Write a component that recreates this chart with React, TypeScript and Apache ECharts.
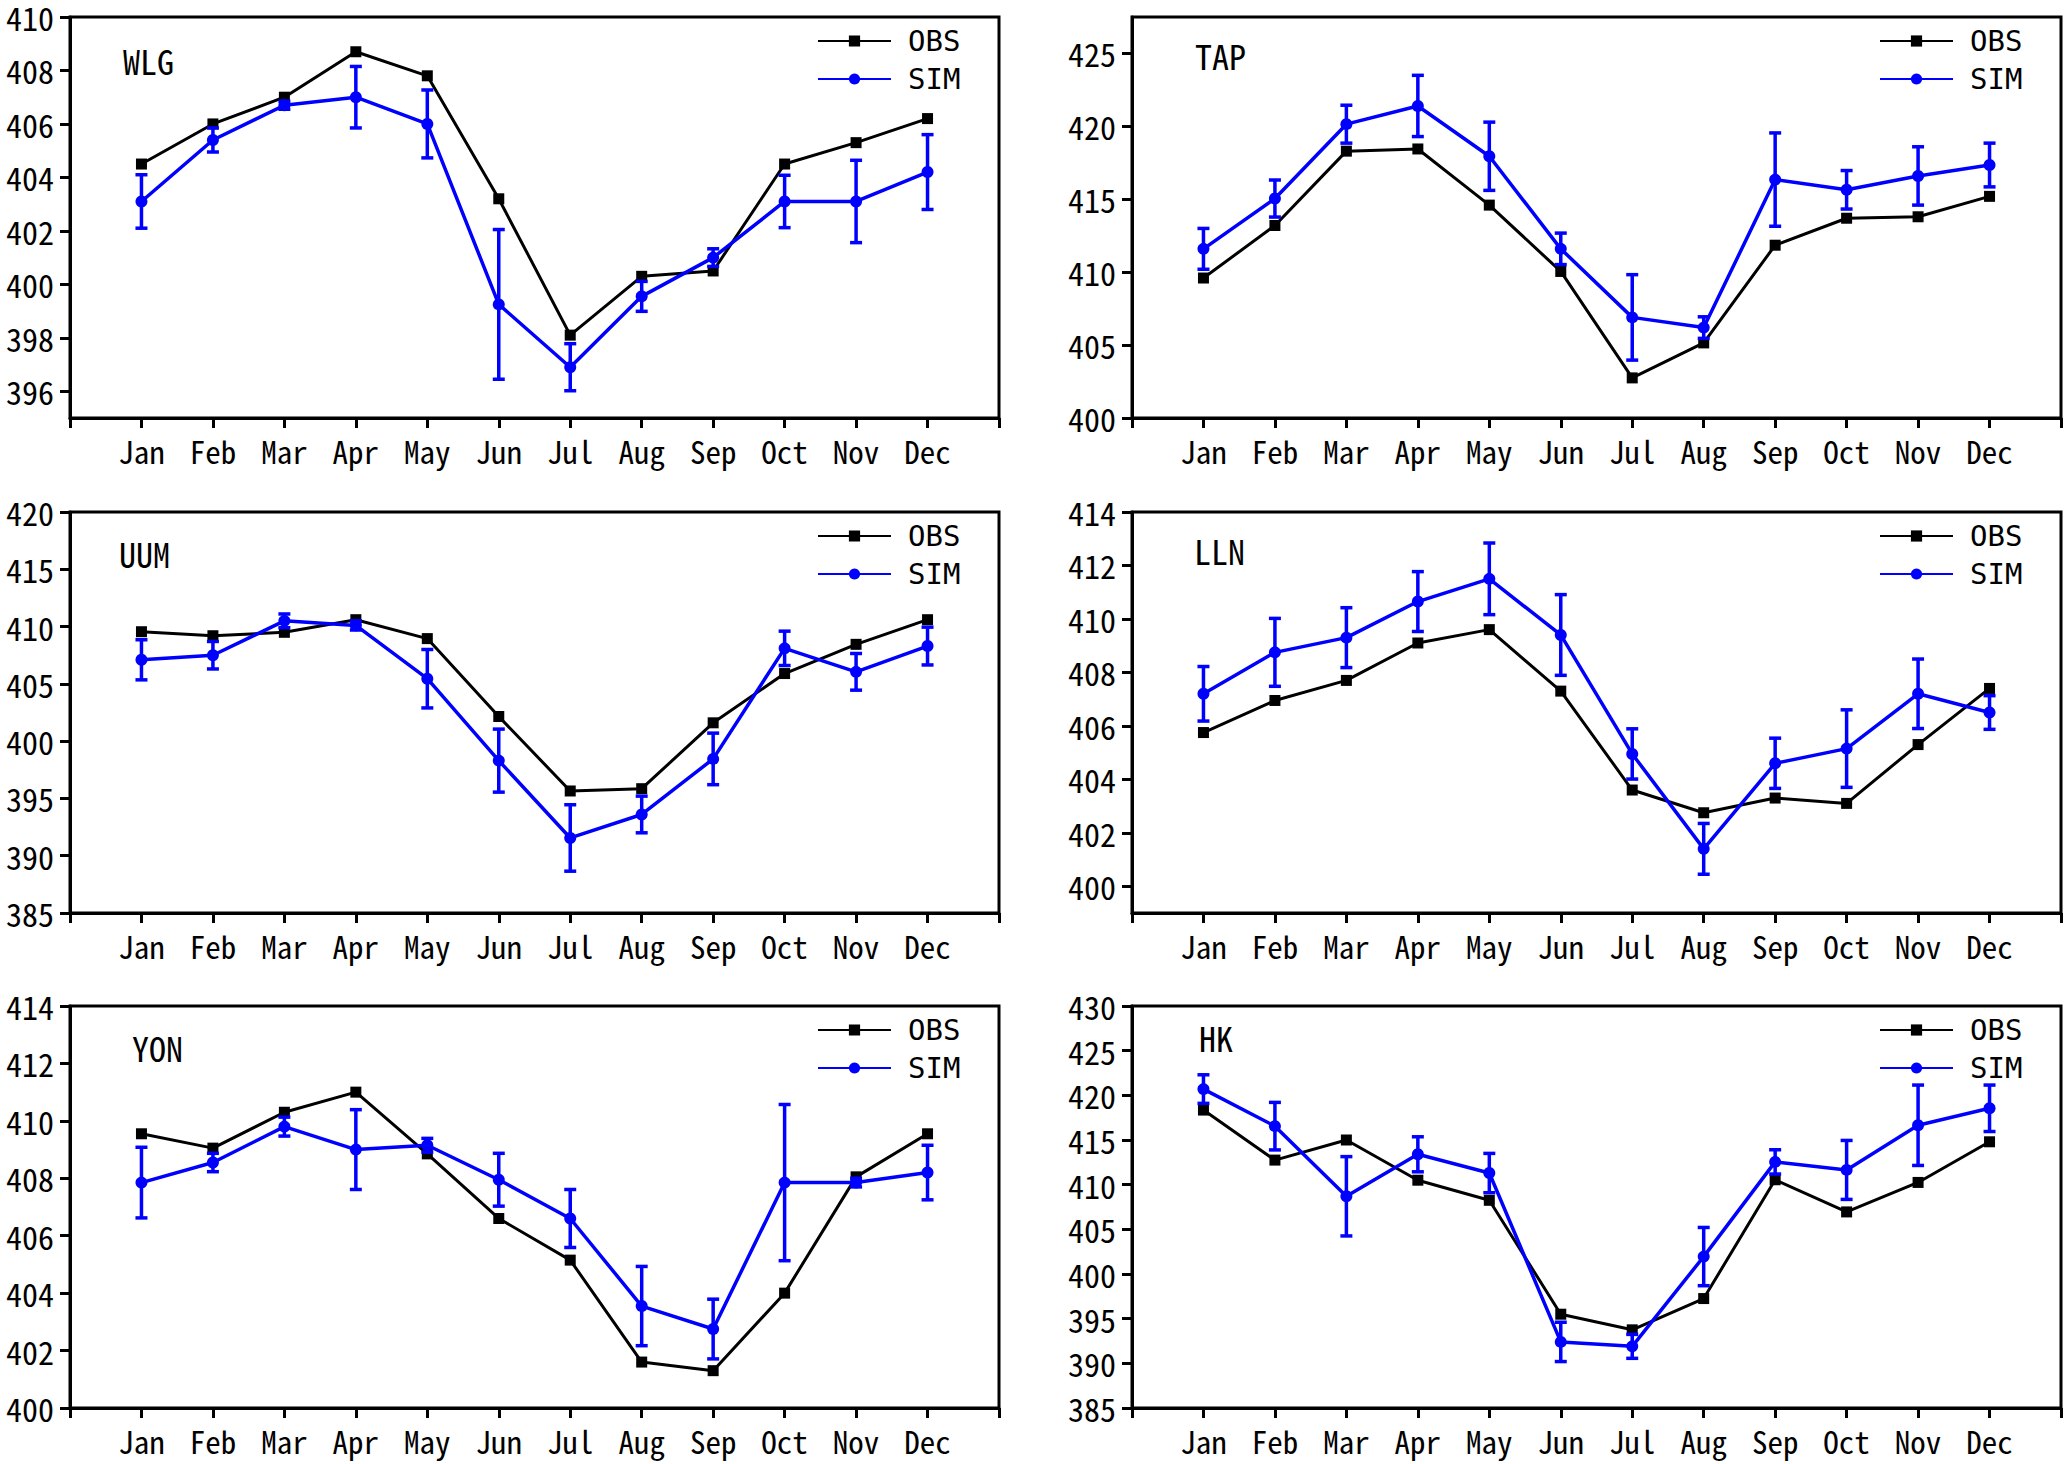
import React, { useEffect, useRef } from "react";
import * as echarts from "echarts";

const months = ["Jan", "Feb", "Mar", "Apr", "May", "Jun", "Jul", "Aug", "Sep", "Oct", "Nov", "Dec"];
const stations = ["WLG", "TAP", "UUM", "LLN", "YON", "HK"];

const wlgObs = [404.5, 406.0, 407.0, 408.7, 407.8, 403.2, 398.1, 400.3, 400.5, 404.5, 405.3, 406.2];
const wlgSim = [403.1, 405.4, 406.7, 407.0, 406.0, 399.25, 396.9, 399.55, 401.0, 403.1, 403.1, 404.2];
const wlgErr = [1.0, 0.45, 0.15, 1.15, 1.27, 2.8, 0.88, 0.56, 0.33, 0.98, 1.54, 1.4];
const wlgRange = [395, 410];
const wlgTicks = [396, 398, 400, 402, 404, 406, 408, 410];

const tapObs = [409.6, 413.2, 418.3, 418.45, 414.6, 410.05, 402.75, 405.15, 411.85, 413.7, 413.8, 415.2];
const tapSim = [411.6, 415.05, 420.15, 421.4, 417.95, 411.6, 406.9, 406.2, 416.35, 415.65, 416.6, 417.35];
const tapErr = [1.4, 1.27, 1.3, 2.1, 2.34, 1.08, 2.93, 0.74, 3.2, 1.32, 2.0, 1.5];
const tapRange = [400, 427.5];
const tapTicks = [400, 405, 410, 415, 420, 425];

const uumObs = [409.55, 409.2, 409.5, 410.6, 408.95, 402.15, 395.65, 395.85, 401.6, 405.9, 408.45, 410.6];
const uumSim = [407.1, 407.5, 410.5, 410.1, 405.45, 398.3, 391.55, 393.6, 398.45, 408.1, 406.05, 408.3];
const uumErr = [1.75, 1.2, 0.6, 0.4, 2.55, 2.75, 2.9, 1.6, 2.25, 1.5, 1.6, 1.65];
const uumRange = [385, 420];
const uumTicks = [385, 390, 395, 400, 405, 410, 415, 420];

const llnObs = [405.75, 406.95, 407.7, 409.1, 409.6, 407.3, 403.6, 402.75, 403.3, 403.1, 405.3, 407.4];
const llnSim = [407.2, 408.75, 409.3, 410.65, 411.5, 409.4, 404.95, 401.4, 404.6, 405.15, 407.2, 406.5];
const llnErr = [1.02, 1.27, 1.12, 1.12, 1.34, 1.51, 0.94, 0.95, 0.94, 1.45, 1.3, 0.63];
const llnRange = [399, 414];
const llnTicks = [400, 402, 404, 406, 408, 410, 412, 414];

const yonObs = [409.55, 409.05, 410.3, 411.0, 408.85, 406.6, 405.15, 401.6, 401.3, 404.0, 408.05, 409.55];
const yonSim = [407.85, 408.55, 409.8, 409.0, 409.15, 407.95, 406.6, 403.55, 402.75, 407.85, 407.85, 408.2];
const yonErr = [1.23, 0.32, 0.33, 1.39, 0.24, 0.92, 1.01, 1.38, 1.04, 2.72, 0.15, 0.95];
const yonRange = [400, 414];
const yonTicks = [400, 402, 404, 406, 408, 410, 412, 414];

const hkObs = [418.35, 412.75, 415.0, 410.5, 408.25, 395.5, 393.75, 397.25, 410.55, 406.95, 410.25, 414.8];
const hkSim = [420.7, 416.55, 408.7, 413.4, 411.3, 392.4, 391.9, 401.95, 412.55, 411.65, 416.65, 418.55];
const hkErr = [1.6, 2.66, 4.44, 1.96, 2.2, 2.2, 1.34, 3.26, 1.36, 3.3, 4.5, 2.6];
const hkRange = [385, 430];
const hkTicks = [385, 390, 395, 400, 405, 410, 415, 420, 425, 430];

const panelObs = [wlgObs, tapObs, uumObs, llnObs, yonObs, hkObs];
const panelSim = [wlgSim, tapSim, uumSim, llnSim, yonSim, hkSim];
const panelErr = [wlgErr, tapErr, uumErr, llnErr, yonErr, hkErr];
const panelRange = [wlgRange, tapRange, uumRange, llnRange, yonRange, hkRange];
const panelTicks = [wlgTicks, tapTicks, uumTicks, llnTicks, yonTicks, hkTicks];

const FONT = "'Noto Sans Mono CJK SC', 'Noto Sans Mono CJK JP', 'DejaVu Sans Mono', monospace";
const LEGEND_FONT = "'DejaVu Sans Mono', monospace";
const BLUE = "#0000ff";

const colLeft = [70, 1132];
const colWidth = [929, 929];
const rowTop = [17, 512, 1006];
const rowHeight = [401, 401, 402];
const titlePos = [
  [123, 43],
  [1195, 38],
  [119, 536],
  [1194, 533],
  [132, 1030],
  [1199, 1020],
];

function buildOption() {
  const grid: any[] = [];
  const xAxis: any[] = [];
  const yAxis: any[] = [];
  const series: any[] = [];
  const legend: any[] = [];
  const title: any[] = [];

  stations.forEach((name, i) => {
    const col = i % 2;
    const row = Math.floor(i / 2);
    const left = colLeft[col];
    const top = rowTop[row];
    grid.push({
      left,
      top,
      width: colWidth[col],
      height: rowHeight[row],
      show: true,
      borderColor: "#000",
      borderWidth: 3,
      backgroundColor: "transparent",
      containLabel: false,
    });
    xAxis.push({
      type: "value",
      gridIndex: i,
      min: 0,
      max: 13,
      interval: 1,
      axisLine: { show: true, lineStyle: { color: "#000", width: 3 } },
      axisTick: { show: true, inside: false, length: 10, lineStyle: { color: "#000", width: 3 } },
      splitLine: { show: false },
      axisLabel: {
        show: true,
        margin: 16,
        color: "#000",
        fontSize: 31,
        lineHeight: 32,
        fontFamily: FONT,
        formatter: (v: number) => (v >= 1 && v <= 12 ? months[v - 1] : ""),
      },
    });
    const ticks = panelTicks[i];
    yAxis.push({
      type: "value",
      gridIndex: i,
      min: panelRange[i][0],
      max: panelRange[i][1],
      axisLine: { show: true, lineStyle: { color: "#000", width: 3 } },
      axisTick: { show: true, inside: false, length: 10, customValues: ticks, lineStyle: { color: "#000", width: 3 } },
      splitLine: { show: false },
      axisLabel: {
        show: true,
        margin: 16,
        color: "#000",
        fontSize: 32,
        lineHeight: 30,
        fontFamily: FONT,
        customValues: ticks,
      },
    });
    const obs = panelObs[i];
    const sim = panelSim[i];
    const err = panelErr[i];
    series.push({
      name: "OBS",
      type: "line",
      xAxisIndex: i,
      yAxisIndex: i,
      data: obs.map((v, k) => [k + 1, v]),
      symbol: "rect",
      symbolSize: 11,
      lineStyle: { color: "#000", width: 3 },
      itemStyle: { color: "#000" },
      z: 3,
    });
    series.push({
      name: "SIM",
      type: "line",
      xAxisIndex: i,
      yAxisIndex: i,
      data: sim.map((v, k) => [k + 1, v]),
      symbol: "circle",
      symbolSize: 12,
      lineStyle: { color: BLUE, width: 3.5 },
      itemStyle: { color: BLUE },
      z: 4,
    });
    series.push({
      name: "SIM error",
      type: "custom",
      xAxisIndex: i,
      yAxisIndex: i,
      data: sim.map((v, k) => [k + 1, v - err[k], v + err[k]]),
      encode: { x: 0, y: [1, 2] },
      z: 5,
      renderItem: (params: any, api: any) => {
        const x = api.value(0);
        const pLo = api.coord([x, api.value(1)]);
        const pHi = api.coord([x, api.value(2)]);
        const w = 6;
        const style = { stroke: BLUE, lineWidth: 3.5, fill: null };
        return {
          type: "group",
          children: [
            { type: "line", shape: { x1: pHi[0], y1: pHi[1], x2: pLo[0], y2: pLo[1] }, style },
            { type: "line", shape: { x1: pHi[0] - w, y1: pHi[1], x2: pHi[0] + w, y2: pHi[1] }, style },
            { type: "line", shape: { x1: pLo[0] - w, y1: pLo[1], x2: pLo[0] + w, y2: pLo[1] }, style },
          ],
        };
      },
    });
    legend.push({
      orient: "vertical",
      left: left + colWidth[col] - 182,
      top: top + 8,
      padding: 0,
      itemGap: 6,
      itemWidth: 73,
      itemHeight: 14,
      data: ["OBS", "SIM"],
      selectedMode: false,
      textStyle: {
        fontSize: 29,
        lineHeight: 32,
        color: "#000",
        fontFamily: LEGEND_FONT,
        padding: [0, 0, 0, 12],
      },
    });
    title.push({
      text: name,
      left: titlePos[i][0],
      top: titlePos[i][1],
      padding: 0,
      textStyle: { fontSize: 34, lineHeight: 34, fontWeight: "normal", color: "#000", fontFamily: FONT },
    });
  });

  return {
    animation: false,
    backgroundColor: "#fff",
    textStyle: { fontFamily: FONT },
    grid,
    xAxis,
    yAxis,
    series,
    legend,
    title,
  };
}

export default function App() {
  const ref = useRef<HTMLDivElement>(null);
  useEffect(() => {
    if (!ref.current) return;
    const chart = echarts.init(ref.current, undefined, { renderer: "svg" });
    chart.setOption(buildOption() as any);
    return () => chart.dispose();
  }, []);
  return (
    <div
      ref={ref}
      style={{ position: "absolute", left: 0, top: 0, width: 2067, height: 1464, background: "#fff" }}
    />
  );
}
